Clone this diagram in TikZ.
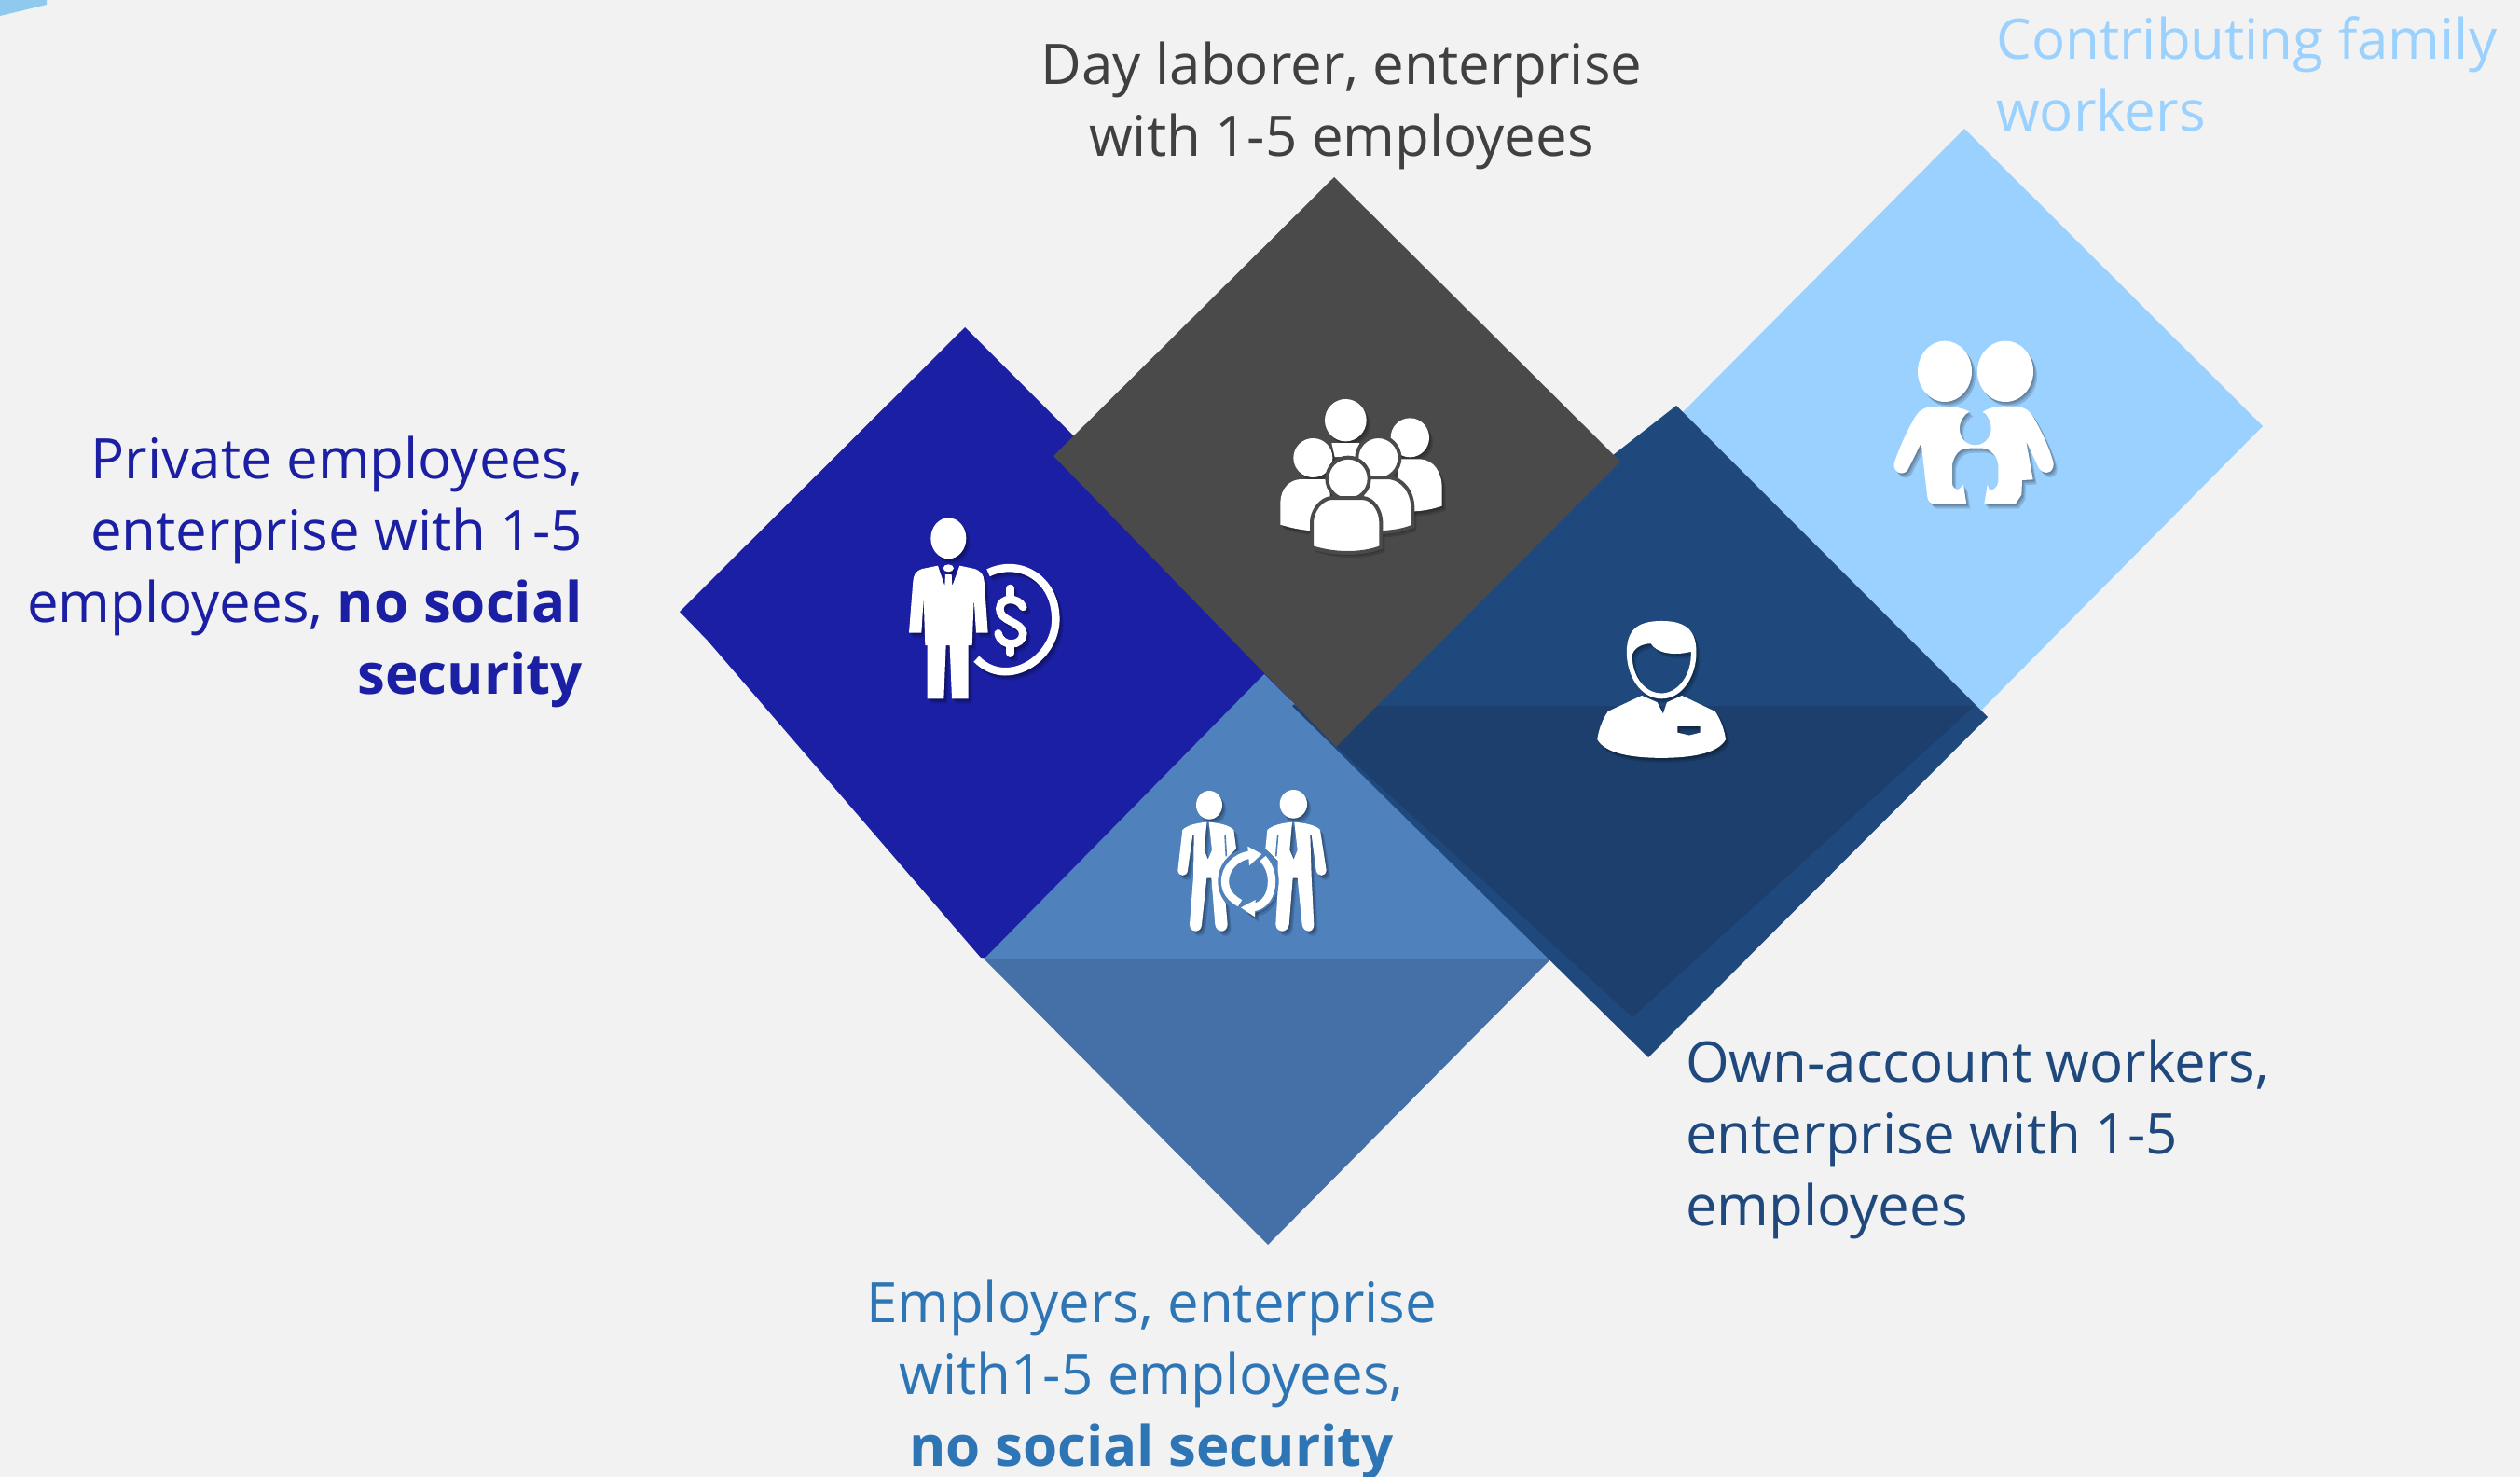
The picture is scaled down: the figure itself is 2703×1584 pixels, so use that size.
\documentclass[tikz,border=0pt]{standalone}
\usepackage{fontspec}
\setmainfont{Open Sans}
\definecolor{bgc}{HTML}{F2F2F2}
\definecolor{navy}{HTML}{1A1FA3}
\definecolor{slate}{HTML}{4A4A4A}
\definecolor{deep}{HTML}{1F497D}
\definecolor{deeper}{HTML}{1C3F6E}
\definecolor{sky}{HTML}{9BD1FF}
\definecolor{mid}{HTML}{4F81BD}
\definecolor{midlow}{HTML}{4470A7}
\definecolor{corner}{HTML}{8FC9EE}
\definecolor{txmid}{HTML}{2E75B6}
\definecolor{txgray}{HTML}{404040}
\tikzset{
  lab/.style={inner sep=0pt,font=\fontsize{60}{77}\selectfont},
  ic/.style={fill=white,draw=none},
  icl/.style={draw=white,fill=none,line cap=round},
  icgap/.style={fill=white,draw=slate,line width=4pt},
  icbg/.style={fill=mid,draw=none},
  icslit/.style={draw=mid,line width=1.6pt},
  shade layer/.style={ic/.style={fill=black,fill opacity=.14,draw=none},icl/.style={draw=black,draw opacity=.14,fill=none,line cap=round},icgap/.style={fill=black,fill opacity=.14,draw=none},icbg/.style={draw=none,fill=none},icslit/.style={draw=none}},
}
% draws icon #2 with a soft offset shadow; #1 = scope options (position, scale)
\newcommand\shadowed[2]{%
  \begin{scope}[shift={(4,5)},#1,shade layer]#2\end{scope}%
  \begin{scope}[shift={(2.5,3)},#1,shade layer]#2\end{scope}%
  \begin{scope}[shift={(1.2,1.5)},#1,shade layer]#2\end{scope}%
  \begin{scope}[#1]#2\end{scope}%
}
\begin{document}
\begin{tikzpicture}[x=1pt,y=-1pt]
\useasboundingbox (0,0) rectangle (2703,1584);
\fill[bgc] (0,0) rectangle (2703,1584);
\fill[corner] (0,0) -- (50,0) -- (50,5) -- (0,17) -- cycle;
% sky diamond
\fill[sky] (2107,138) -- (2427,457) -- (2118,769) -- (1790,457) -- cycle;
% navy diamond
\fill[navy] (1035,351) -- (1400,716) -- (1380,760) -- (1090,1032) -- (1052,1027) -- (759,687) -- (729,656) -- cycle;
% employers diamond
\fill[mid] (1356,723) -- (1664,1029) -- (1055,1029) -- cycle;
\fill[midlow] (1055,1028) -- (1664,1028) -- (1360,1335) -- cycle;
% own-account diamond
\fill[deep] (1798,435) -- (2132,769) -- (1768,1134) -- (1386,757) -- cycle;
\fill[deeper] (1386,757) -- (2118,757) -- (1751,1091) -- cycle;
% slate diamond
\fill[slate] (1431,190) -- (1738,495) -- (1433,801) -- (1130,489) -- cycle;
% businessman icon
\shadowed{shift={(920,520)},xscale=1/3,yscale=1/3}{
  \fill[ic] (292,172) ellipse[x radius=57,y radius=66];
  \fill[ic] (292,268) ellipse[x radius=17,y radius=12];
  \fill[ic] (258,260) -- (208,270) .. controls (185,278) and (180,290) .. (178,310) -- (165,476) -- (205,476) -- (212,365) -- (217,516) -- (224,516) -- (224,688) -- (277,688) -- (284,516) -- (296,516) -- (303,688) -- (356,688) -- (356,516) -- (368,516) -- (374,365) -- (381,476) -- (419,476) -- (407,310) .. controls (405,290) and (398,278) .. (376,270) -- (328,260) -- (304,325) -- (302,288) -- (282,288) -- (280,325) -- cycle;
  \draw[icl,line cap=butt,line width=8.5pt] (420,283) .. controls (520,235) and (637,300) .. (637,433) .. controls (637,560) and (480,660) .. (382,560);
  \draw[icl,line width=8.5pt] (532,393) .. controls (515,360) and (460,360) .. (457,398) .. controls (455,440) and (530,440) .. (532,478) .. controls (532,520) and (462,525) .. (452,478);
  \draw[icl,line width=8.5pt] (491,333) -- (491,355);
  \draw[icl,line width=8.5pt] (491,520) -- (491,542);
}
% crowd icon
\shadowed{shift={(1360,420)},xscale=1/3,yscale=1/3}{
  \fill[ic] (457,148) ellipse[x radius=62,y radius=63];
  \fill[ic] (420,217) -- (490,217) .. controls (535,220) and (560,260) .. (560,310) -- (560,368) .. controls (530,378) and (500,384) .. (470,385) -- (420,385) -- cycle;
  \fill[ic] (250,92) ellipse[x radius=67,y radius=68];
  \fill[ic] (205,165) -- (295,165) -- (285,210) -- (215,210) -- cycle;
  \fill[ic] (145,213) ellipse[x radius=63,y radius=63];
  \fill[ic] (105,282) -- (200,282) -- (200,447) -- (130,447) .. controls (95,443) and (65,436) .. (40,428) -- (40,355) .. controls (42,310) and (70,284) .. (105,282) -- cycle;
  \draw[icgap] (355,213) ellipse[x radius=69,y radius=69];
  \draw[icgap] (305,276) -- (385,276) .. controls (435,278) and (466,325) .. (466,375) -- (466,434) .. controls (435,446) and (410,450) .. (375,453) -- (300,453) -- cycle;
  \draw[icgap] (258,280) ellipse[x radius=68,y radius=68];
  \draw[icgap] (205,342) -- (305,342) .. controls (340,344) and (364,385) .. (364,420) -- (364,501) .. controls (300,526) and (210,524) .. (141,501) -- (141,420) .. controls (141,385) and (170,344) .. (205,342) -- cycle;
}
% family icon
\shadowed{shift={(1950,320)},xscale=1/3,yscale=1/3}{
  \fill[ic] (408,235) ellipse[x radius=87,y radius=98];
  \fill[ic] (603,235) ellipse[x radius=90,y radius=98];
  \fill[ic] (487,364) .. controls (450,345) and (400,345) .. (360,350) .. controls (335,352) and (320,365) .. (305,395) .. controls (285,430) and (262,480) .. (245,530) .. controls (240,560) and (275,575) .. (290,550) -- (332,465) -- (352,640) .. controls (355,655) and (365,662) .. (375,662) -- (478,662) -- (468,600) -- (452,615) .. controls (440,615) and (432,605) .. (432,595) -- (432,535) .. controls (440,500) and (455,482) .. (490,482) -- (530,482) .. controls (555,484) and (578,510) .. (580,535) -- (580,590) .. controls (578,610) and (560,620) .. (552,615) -- (545,600) -- (535,662) -- (635,662) -- (655,632) -- (657,585) -- (692,583) -- (670,460) -- (710,545) .. controls (725,570) and (760,565) .. (758,530) .. controls (745,480) and (720,430) .. (695,385) .. controls (680,360) and (665,350) .. (640,348) .. controls (600,345) and (560,345) .. (530,365) .. controls (550,380) and (557,400) .. (557,420) .. controls (555,450) and (535,472) .. (506,472) .. controls (478,472) and (456,450) .. (456,420) .. controls (456,395) and (468,376) .. (487,364) -- cycle;
}
% own-account worker icon
\shadowed{shift={(1300,380)},xscale=1/1.742,yscale=1/2.063}{
  \fill[ic,even odd rule] (840,590) .. controls (790,590) and (775,615) .. (775,660) .. controls (775,710) and (800,762) .. (840,762) .. controls (880,762) and (905,710) .. (905,660) .. controls (905,615) and (890,590) .. (840,590) -- cycle
    (785,665) .. controls (790,645) and (810,640) .. (820,640) .. controls (830,660) and (860,668) .. (895,658) .. controls (897,710) and (870,750) .. (840,750) .. controls (810,750) and (785,715) .. (785,665) -- cycle;
  \fill[ic,even odd rule] (803,755) -- (832,770) -- (843,795) -- (850,770) -- (878,755) -- (940,790) .. controls (952,810) and (958,835) .. (960,852) .. controls (945,885) and (890,893) .. (840,893) .. controls (790,893) and (735,885) .. (720,852) .. controls (722,835) and (728,810) .. (740,790) -- cycle
    (870,823) -- (912,823) -- (912,837) -- (892,843) -- (870,837) -- cycle;
}
% two men icon
\shadowed{shift={(1250,840)},xscale=1/3,yscale=1/3}{
  \fill[ic] (133,125) .. controls (100,128) and (70,135) .. (55,150) -- (40,280) .. controls (42,302) and (70,302) .. (72,280) -- (88,165) -- (92,165) -- (90,300) -- (78,455) .. controls (80,483) and (115,483) .. (117,455) -- (133,305) -- (148,305) -- (160,455) .. controls (165,483) and (198,483) .. (200,455) -- (190,340) -- (190,250) -- (228,210) -- (220,150) .. controls (205,135) and (175,128) .. (140,125) -- (150,215) -- (137,245) -- (125,215) -- cycle;
  \fill[ic] (408,125) .. controls (375,128) and (345,135) .. (328,150) -- (322,210) -- (362,250) -- (362,340) -- (355,455) .. controls (358,483) and (393,483) .. (398,455) -- (410,305) -- (425,305) -- (440,455) .. controls (445,483) and (478,483) .. (478,455) -- (470,300) -- (466,165) -- (470,165) -- (485,280) .. controls (490,302) and (515,302) .. (518,280) -- (498,150) .. controls (485,135) and (450,128) .. (415,125) -- (425,215) -- (413,245) -- (400,215) -- cycle;
  \draw[icslit] (192,165) -- (196,235);
  \draw[icslit] (362,165) -- (356,235);
  \fill[ic] (141,70) ellipse[x radius=42,y radius=46];
  \fill[ic] (412,67) ellipse[x radius=44,y radius=46];
  \fill[icbg] (267,315) ellipse[x radius=98,y radius=104];
  \draw[icl,line cap=butt,line width=8.3pt] (240,386) .. controls (208,368) and (192,345) .. (192,315) .. controls (192,275) and (225,235) .. (275,230);
  \draw[icl,line cap=butt,line width=8.3pt] (313,242) .. controls (330,260) and (342,285) .. (342,315) .. controls (342,360) and (320,395) .. (280,400);
  \fill[ic] (265,203) -- (310,228) -- (270,265) -- cycle;
  \fill[ic] (290,375) -- (243,400) -- (288,430) -- cycle;
}
% labels
\node[lab,text=navy,align=right,anchor=north east] (private) at (625,468) {Private employees,\\enterprise with 1-5\\employees, \textbf{no social}\\\textbf{security}};
\node[lab,text=txgray,align=center,anchor=north] (day) at (1439,45) {Day laborer, enterprise\\with 1-5 employees};
\node[lab,text=sky,align=left,anchor=north west] (family) at (2141,17) {Contributing family\\workers};
\node[lab,text=deep,align=left,anchor=north west] (own) at (1808,1115) {Own-account workers,\\enterprise with 1-5\\employees};
\node[lab,text=txmid,align=center,anchor=north] (employers) at (1235,1373) {Employers, enterprise\\with1-5 employees,\\\textbf{no social security}};
\end{tikzpicture}
\end{document}
